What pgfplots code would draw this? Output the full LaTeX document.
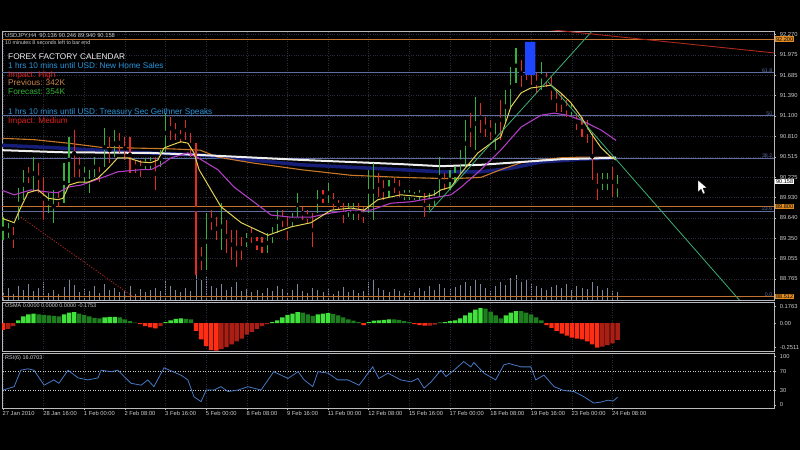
\documentclass[border=0pt]{standalone}
\usepackage{fontspec}
\setmainfont{Liberation Sans}
\usepackage{pgfplots}
\pgfplotsset{compat=1.18}
\usepackage{pgfplotstable}

\definecolor{axc}{RGB}{185,185,190}
\definecolor{gridc}{RGB}{40,44,60}
\definecolor{lblc}{RGB}{205,205,205}
\definecolor{upc}{RGB}{55,175,60}
\definecolor{dnc}{RGB}{225,45,35}
\definecolor{volc}{RGB}{125,135,155}
\definecolor{fibc}{RGB}{95,110,160}
\definecolor{lvlo}{RGB}{195,115,45}
\definecolor{navyc}{RGB}{22,30,120}
\definecolor{whitec}{RGB}{238,238,238}
\definecolor{orac}{RGB}{200,120,40}
\definecolor{magc}{RGB}{175,60,195}
\definecolor{yelc}{RGB}{225,210,85}
\definecolor{trgc}{RGB}{60,175,115}
\definecolor{trrc}{RGB}{175,40,30}
\definecolor{gbr}{RGB}{65,225,60}
\definecolor{gdk}{RGB}{30,125,30}
\definecolor{rbr}{RGB}{255,45,20}
\definecolor{rdk}{RGB}{170,30,20}
\definecolor{rsic}{RGB}{70,120,195}
\definecolor{txblue}{RGB}{40,150,220}
\definecolor{txred}{RGB}{225,35,30}
\definecolor{txtan}{RGB}{205,135,75}
\definecolor{txgreen}{RGB}{50,180,50}
\definecolor{hlblue}{RGB}{30,70,255}
\definecolor{boxo}{RGB}{225,140,35}

\pgfplotstableread{
i h l c
0 89.65 89.32 1
1 89.57 89.35 1
2 89.51 89.21 0
3 90.07 89.61 1
4 90.33 89.90 1
5 90.37 90.14 0
6 90.51 90.04 1
7 90.43 90.00 0
8 90.23 89.61 0
9 90.00 89.71 1
10 90.04 89.57 1
11 90.00 89.80 0
12 90.43 89.85 1
13 90.80 90.14 1
14 90.90 90.23 0
15 90.51 90.23 0
16 90.37 90.14 1
17 90.33 90.00 1
18 90.51 90.23 1
19 90.37 90.15 0
20 90.93 90.37 1
21 90.80 90.43 0
22 90.90 90.51 1
23 90.86 90.57 0
24 90.80 90.47 0
25 90.80 90.28 0
26 90.47 90.28 0
27 90.47 90.23 0
28 90.50 90.33 1
29 90.51 90.33 1
30 90.51 90.04 0
31 90.61 90.37 1
32 91.14 90.57 1
33 91.09 90.76 0
34 91.00 90.76 0
35 90.90 90.71 0
36 91.04 90.76 0
37 90.86 90.51 0
38 90.71 88.82 0
39 89.22 88.89 0
40 89.71 88.89 1
41 89.75 89.47 0
42 89.65 89.32 0
43 89.85 89.18 1
44 89.61 89.14 0
45 89.47 89.04 0
46 89.47 88.94 0
47 89.37 89.04 0
48 89.42 89.22 1
49 89.51 89.28 0
50 89.37 89.18 0
51 89.37 89.14 0
52 89.42 89.14 1
53 89.51 89.28 1
54 89.75 89.42 1
55 89.75 89.51 0
56 89.65 89.32 0
57 89.71 89.51 1
58 90.00 89.65 1
59 89.80 89.61 0
60 89.75 89.57 0
61 89.71 89.22 0
62 90.04 89.71 1
63 90.04 89.85 0
64 90.14 89.85 1
65 90.00 89.75 0
66 89.90 89.75 0
67 89.85 89.57 0
68 89.85 89.65 1
69 89.85 89.61 1
70 89.85 89.61 0
71 89.80 89.57 0
72 90.33 89.71 1
73 90.43 89.61 1
74 90.28 89.94 0
75 90.18 89.90 0
76 90.18 89.94 1
77 90.21 90.00 0
78 90.18 89.94 0
79 90.04 89.90 1
80 90.04 89.90 1
81 90.01 89.90 1
82 90.04 89.90 1
83 90.00 89.65 0
84 90.00 89.75 1
85 90.04 89.80 1
86 90.51 89.94 1
87 90.28 90.04 0
88 90.33 90.04 1
89 90.37 90.14 1
90 90.61 90.28 1
91 91.04 90.37 1
92 91.14 90.66 0
93 91.37 90.61 1
94 91.29 90.86 0
95 91.09 90.80 0
96 91.04 90.76 0
97 91.00 90.61 1
98 91.33 90.76 0
99 91.47 91.00 1
100 91.80 91.23 1
101 92.07 91.57 1
102 91.90 91.52 0
103 92.05 91.62 0
104 91.97 91.54 0
105 91.72 91.43 0
106 91.87 91.47 1
107 91.72 91.52 0
108 91.66 91.33 0
109 91.47 91.16 0
110 91.43 91.16 0
111 91.33 91.09 0
112 91.29 91.09 1
113 91.14 90.90 0
114 91.09 90.80 0
115 91.04 90.71 0
116 90.86 90.18 0
117 90.28 89.90 0
118 90.28 90.04 1
119 90.28 90.04 1
120 90.37 89.94 0
121 90.25 89.94 1
}\bars

\pgfplotstableread{
i v
0 8
1 12
2 6
3 14
4 10
5 16
6 9
7 12
8 18
9 7
10 10
11 6
12 13
13 20
14 15
15 8
16 11
17 9
18 14
19 7
20 16
21 10
22 12
23 8
24 9
25 14
26 6
27 11
28 8
29 10
30 12
31 9
32 22
33 14
34 10
35 8
36 12
37 9
38 26
39 20
40 24
41 14
42 12
43 16
44 10
45 13
46 18
47 9
48 11
49 8
50 10
51 7
52 12
53 9
54 14
55 11
56 8
57 10
58 16
59 9
60 7
61 12
62 10
63 8
64 11
65 6
66 9
67 13
68 8
69 10
70 7
71 9
72 18
73 20
74 12
75 10
76 8
77 11
78 9
79 7
80 10
81 8
82 12
83 9
84 14
85 10
86 16
87 12
88 11
89 13
90 15
91 18
92 14
93 20
94 16
95 12
96 10
97 14
98 18
99 15
100 22
101 25
102 18
103 20
104 16
105 14
106 12
107 10
108 13
109 15
110 12
111 16
112 10
113 14
114 12
115 11
116 18
117 14
118 10
119 12
120 9
121 8
}\vol

\pgfplotstableread{
i v c
0 -0.07 3
1 -0.06 4
2 -0.03 4
3 0.03 1
4 0.07 1
5 0.09 1
6 0.10 1
7 0.09 2
8 0.085 2
9 0.08 2
10 0.075 2
11 0.07 2
12 0.09 1
13 0.11 1
14 0.115 1
15 0.10 2
16 0.085 2
17 0.07 2
18 0.055 2
19 0.05 2
20 0.06 1
21 0.065 1
22 0.065 1
23 0.06 2
24 0.04 2
25 0.02 2
26 0.005 2
27 -0.01 3
28 -0.03 3
29 -0.045 3
30 -0.055 3
31 -0.03 4
32 0.01 1
33 0.03 1
34 0.045 1
35 0.05 1
36 0.045 2
37 0.04 2
38 -0.08 3
39 -0.17 3
40 -0.24 3
41 -0.28 3
42 -0.285 3
43 -0.27 4
44 -0.25 4
45 -0.22 4
46 -0.19 4
47 -0.16 4
48 -0.12 4
49 -0.09 4
50 -0.06 4
51 -0.03 4
52 -0.01 4
53 0.01 1
54 0.03 1
55 0.06 1
56 0.085 1
57 0.10 1
58 0.115 1
59 0.11 2
60 0.09 2
61 0.075 2
62 0.09 1
63 0.10 1
64 0.105 1
65 0.095 2
66 0.08 2
67 0.06 2
68 0.04 2
69 0.025 2
70 0.01 2
71 -0.02 3
72 0.01 1
73 0.025 1
74 0.03 1
75 0.035 1
76 0.04 1
77 0.04 2
78 0.035 2
79 0.02 2
80 0.01 2
81 -0.01 3
82 -0.02 3
83 -0.025 3
84 -0.025 4
85 -0.015 4
86 0.005 1
87 0.01 1
88 0.02 1
89 0.03 1
90 0.05 1
91 0.08 1
92 0.11 1
93 0.14 1
94 0.155 1
95 0.15 2
96 0.12 2
97 0.08 2
98 0.05 2
99 0.08 1
100 0.11 1
101 0.125 1
102 0.125 2
103 0.11 2
104 0.09 2
105 0.06 2
106 0.03 2
107 -0.02 3
108 -0.05 3
109 -0.08 3
110 -0.11 3
111 -0.13 3
112 -0.15 3
113 -0.16 3
114 -0.17 3
115 -0.19 3
116 -0.22 3
117 -0.255 3
118 -0.245 4
119 -0.23 4
120 -0.21 4
121 -0.175 4
}\osma

\pgfplotstableread{
i v
0 31
2.2 38
3.5 72
4.9 75
6.1 72
8.1 41
10.0 52
11.0 45
12.8 72
14.8 56
16.7 52
18.7 56
19.3 72
21.3 69
22.6 72
25.2 45
27.2 41
28.5 52
29.7 38
31.7 77
35.0 62
36.4 52
37.6 17
39.0 7
40.0 31
41.5 31
42.9 38
44.3 28
46.3 31
48.2 38
50.8 31
53.3 69
56.1 55
58.1 69
59.3 52
61.0 38
62.0 69
64.0 66
65.9 52
67.9 52
70.1 41
72.8 79
74.0 55
75.8 66
78.3 52
80.3 48
81.7 55
82.9 35
84.3 48
86.2 72
87.2 59
88.8 72
90.7 90
92.1 79
92.7 88
94.7 66
97.0 52
98.6 83
99.6 86
102.0 79
103.9 79
104.9 52
106.5 62
108.5 38
110.4 30
112.4 28
114.4 17
116.3 4
117.7 6
119.1 10
120.1 8
121.0 16.07
}\rsi

\tikzset{
  rlab/.style={anchor=west, xshift=1.2bp, inner sep=0.7bp, font=\fontsize{5.6}{6}\selectfont},
  fiblab/.style={anchor=south east, xshift=-1bp, yshift=-0.5bp, inner sep=0.5bp, text=fibc, font=\fontsize{5.3}{6}\selectfont},
}
\pgfplotsset{
  mt/.style={
    scale only axis, anchor=south west,
    xmin=-0.2, xmax=151.8,
    axis line style={draw=axc, line width=0.8bp},
    xmajorgrids=true,
    grid style={draw=gridc, dotted, line width=0.5bp},
    xtick={0,8,...,120},
    tick align=outside, major tick length=2bp,
    tick style={draw=axc, line width=0.5bp},
    ytick pos=right, yticklabel pos=right,
    xtick pos=bottom,
    ticklabel style={font=\fontsize{5.8}{6}\selectfont, text=lblc},
    yticklabel style={xshift=0.3bp},
    /pgf/number format/assume math mode=true,
    clip mode=individual,
  },
  hline/.style={forget plot, line width=0.8bp},
  barup/.style={only marks, mark=none, forget plot,
    restrict expr to domain={\thisrow{c}}{0.5:1.5},
    error bars/.cd, y dir=both, y explicit, error mark=none,
    error bar style={draw=upc, line width=1.1bp}},
  bardn/.style={only marks, mark=none, forget plot,
    restrict expr to domain={\thisrow{c}}{-0.5:0.5},
    error bars/.cd, y dir=both, y explicit, error mark=none,
    error bar style={draw=dnc, line width=1.1bp}},
}

\begin{document}
\begin{tikzpicture}
\path[use as bounding box, fill=black] (0,0) rectangle (800bp,450bp);

% volume
\begin{axis}[mt, at={(2bp,150bp)}, width=772bp, height=269bp,
  ymin=0, ymax=269, hide axis]
\addplot[ycomb, draw=volc, line width=0.9bp] table[x=i, y=v] {\vol};
\end{axis}

% main price panel
\begin{axis}[mt, at={(2bp,150bp)}, width=772bp, height=269bp,
  ymin=88.463, ymax=92.317,
  ymajorgrids=true,
  ytick={88.765,89.055,89.350,89.640,89.930,90.225,90.515,90.810,91.100,91.390,91.685,91.975,92.270},
  yticklabel style={/pgf/number format/fixed, /pgf/number format/fixed zerofill, /pgf/number format/precision=3},
  xticklabels={}, xtick style={draw=none}]
% level lines
\addplot[hline, lvlo] coordinates {(-1,92.200) (160,92.200)};
\addplot[hline, fibc] coordinates {(-1,91.720) (160,91.720)};
\addplot[hline, fibc] coordinates {(-1,91.107) (160,91.107)};
\addplot[hline, fibc] coordinates {(-1,90.495) (160,90.495)};
\addplot[hline, lvlo] coordinates {(-1,89.800) (160,89.800)};
\addplot[hline, fibc] coordinates {(-1,89.737) (160,89.737)};
\addplot[hline, lvlo] coordinates {(-1,88.512) (160,88.512)};
% slow averages
\addplot[forget plot, navyc, line width=3.5bp] coordinates {(-0.4,90.68) (11.4,90.64) (25.2,90.58) (39.0,90.54) (48.8,90.47) (58.7,90.40) (78.3,90.33) (86.2,90.30) (94.1,90.30) (100.0,90.35) (105.9,90.44) (113.8,90.48) (120.7,90.50)};
\addplot[forget plot, orac, line width=1.1bp] coordinates {(-0.4,90.78) (6.1,90.76) (12.8,90.71) (19.3,90.65) (25.8,90.64) (32.5,90.63) (38.8,90.61) (42.3,90.51) (48.8,90.43) (58.7,90.33) (68.5,90.25) (78.3,90.22) (88.2,90.20) (94.1,90.22) (98.0,90.33) (102.0,90.43) (105.9,90.47) (109.8,90.50) (113.8,90.51) (120.7,90.51)};
\addplot[forget plot, whitec, line width=2bp] coordinates {(-0.4,90.61) (11.4,90.58) (29.1,90.57) (39.0,90.54) (58.7,90.47) (78.3,90.41) (86.2,90.38) (94.1,90.40) (102.0,90.44) (109.8,90.48) (120.7,90.50)};
% price bars
\addplot[barup] table[x=i, y expr={(\thisrow{h}+\thisrow{l})/2}, y error expr={(\thisrow{h}-\thisrow{l})/2}] {\bars};
\addplot[bardn] table[x=i, y expr={(\thisrow{h}+\thisrow{l})/2}, y error expr={(\thisrow{h}-\thisrow{l})/2}] {\bars};
% highlight
\addplot[forget plot, fill=hlblue, draw=none] coordinates {(102.8,91.69) (102.8,92.16) (104.8,92.16) (104.8,91.69) (102.8,91.69)};
% fast averages
\addplot[forget plot, magc, line width=1.1bp] coordinates {(-0.4,90.04) (2.2,89.97) (5.5,90.04) (8.9,90.01) (10.8,90.00) (12.8,90.08) (15.4,90.11) (19.3,90.21) (22.6,90.30) (27.2,90.33) (29.1,90.33) (31.1,90.40) (33.1,90.50) (36.4,90.57) (38.4,90.50) (42.3,90.33) (45.5,90.08) (48.8,89.90) (52.8,89.68) (56.7,89.65) (60.6,89.65) (64.6,89.71) (68.5,89.75) (72.4,89.75) (76.4,89.85) (80.3,89.87) (84.3,89.92) (88.2,89.97) (90.2,90.08) (94.1,90.33) (98.0,90.61) (102.0,90.94) (105.9,91.11) (108.5,91.14) (111.2,91.11) (113.8,91.04) (117.7,90.90) (120.7,90.75)};
\addplot[forget plot, yelc, line width=1bp] coordinates {(-0.4,89.64) (2.2,89.57) (3.0,89.71) (4.9,90.00) (6.9,90.04) (8.9,89.92) (10.8,89.90) (11.8,89.92) (13.0,90.11) (14.8,90.15) (16.7,90.15) (18.7,90.21) (20.7,90.35) (22.6,90.50) (24.6,90.50) (27.2,90.44) (29.1,90.43) (30.5,90.47) (31.7,90.64) (33.1,90.68) (35.0,90.73) (36.4,90.71) (37.6,90.57) (38.6,90.33) (42.9,89.80) (46.9,89.57) (52.2,89.39) (56.7,89.51) (60.6,89.57) (64.6,89.75) (68.5,89.78) (71.1,89.75) (73.8,89.90) (78.3,89.97) (82.9,89.94) (84.8,89.97) (86.2,90.04) (88.2,90.08) (90.2,90.28) (93.5,90.57) (96.1,90.71) (98.0,90.80) (100.0,91.23) (102.0,91.43) (103.9,91.50) (105.9,91.52) (107.9,91.54) (109.8,91.43) (111.8,91.29) (113.8,91.09) (115.7,90.86) (117.7,90.65) (119.7,90.51) (120.7,90.47)};
% trend lines
\addplot[forget plot, trgc, line width=0.8bp] coordinates {(83.9,89.72) (116.0,92.317)};
\addplot[forget plot, trgc, line width=0.8bp] coordinates {(107.3,91.59) (145.0,88.46)};
\addplot[forget plot, trrc, line width=0.9bp] coordinates {(105.9,92.35) (152.2,92.00)};
\addplot[forget plot, trrc, line width=0.8bp, dash pattern=on 1.2bp off 1.5bp] coordinates {(3.5,89.65) (25.8,88.50)};
% right labels
\node[rlab, fill=boxo, text=black] at (axis cs:151.8,92.200) {92.200};
\node[rlab, fill=white, text=black] at (axis cs:151.8,90.158) {90.158};
\node[rlab, fill=boxo, text=black] at (axis cs:151.8,89.800) {89.800};
\node[rlab, fill=boxo, text=black] at (axis cs:151.8,88.512) {88.512};
\node[fiblab] at (axis cs:151.8,91.720) {61.8};
\node[fiblab] at (axis cs:151.8,91.107) {50};
\node[fiblab] at (axis cs:151.8,90.495) {38.2};
\node[fiblab] at (axis cs:151.8,89.737) {23.6};
\node[fiblab] at (axis cs:151.8,88.512) {0.0};
\end{axis}

% OSMA panel
\begin{axis}[mt, at={(2bp,99bp)}, width=772bp, height=49bp,
  ymin=-0.29, ymax=0.22,
  ytick={-0.2511,0,0.1763}, yticklabels={-0.2511,0.00,0.1763},
  xticklabels={}, xtick style={draw=none}]
\addplot[ybar, bar width=0.86, fill=gbr, draw=none, restrict expr to domain={\thisrow{c}}{0.5:1.5}] table[x=i, y=v] {\osma};
\addplot[ybar, bar width=0.86, fill=gdk, draw=none, restrict expr to domain={\thisrow{c}}{1.5:2.5}] table[x=i, y=v] {\osma};
\addplot[ybar, bar width=0.86, fill=rbr, draw=none, restrict expr to domain={\thisrow{c}}{2.5:3.5}] table[x=i, y=v] {\osma};
\addplot[ybar, bar width=0.86, fill=rdk, draw=none, restrict expr to domain={\thisrow{c}}{3.5:4.5}] table[x=i, y=v] {\osma};
\end{axis}

% RSI panel
\begin{axis}[mt, at={(2bp,42bp)}, width=772bp, height=55bp,
  ymin=-6.2, ymax=107.7,
  ytick={0,30,70,100},
  xticklabels={27 Jan 2010,28 Jan 16:00,1 Feb 00:00,2 Feb 08:00,3 Feb 16:00,5 Feb 00:00,8 Feb 08:00,9 Feb 16:00,11 Feb 00:00,12 Feb 08:00,15 Feb 16:00,17 Feb 00:00,18 Feb 08:00,19 Feb 16:00,23 Feb 00:00,24 Feb 08:00},
  xticklabel style={anchor=north west, xshift=-1.5bp, inner sep=1bp}]
\addplot[hline, lblc, line width=0.6bp, dash pattern=on 0.9bp off 1.6bp] coordinates {(-1,70) (160,70)};
\addplot[hline, lblc, line width=0.6bp, dash pattern=on 0.9bp off 1.6bp] coordinates {(-1,30) (160,30)};
\addplot[forget plot, rsic, line width=0.8bp] table[x=i, y=v] {\rsi};
\end{axis}

% header and calendar text
\node[anchor=base west, inner sep=0, text=lblc, font=\fontsize{5.8}{6}\selectfont] at (5bp,412.5bp) {USDJPY,H4\ \ 90.136 90.246 89.940 90.158};
\node[anchor=base west, inner sep=0, text=lblc, font=\fontsize{5.3}{6}\selectfont] at (5bp,405bp) {10 minutes 8 seconds left to bar end};
\begin{scope}[every node/.style={anchor=base west, inner sep=0, font=\fontsize{8.3}{9}\selectfont}]
\node[text=whitec] at (8bp,390bp) {FOREX FACTORY CALENDAR};
\node[text=txblue] at (8bp,381bp) {1 hrs 10 mins until USD: New Home Sales};
\node[text=txred] at (8bp,372.5bp) {Impact: High};
\node[text=txtan] at (8bp,364bp) {Previous: 342K};
\node[text=txgreen] at (8bp,355.5bp) {Forecast: 354K};
\node[text=txblue] at (8bp,335.5bp) {1 hrs 10 mins until USD: Treasury Sec Geithner Speaks};
\node[text=txred] at (8bp,326.5bp) {Impact: Medium};
\end{scope}
\node[anchor=base west, inner sep=0, text=lblc, font=\fontsize{5.5}{6}\selectfont] at (5bp,142bp) {OSMA 0.0000 0.0000 0.0000 -0.1753};
\node[anchor=base west, inner sep=0, text=lblc, font=\fontsize{5.5}{6}\selectfont] at (5bp,90bp) {RSI(6) 16.0703};
% mouse pointer
\path[fill=white, draw=black, line width=0.3bp] (698bp,270bp) -- (698bp,258bp) -- (701bp,261bp) -- (703bp,256bp) -- (705bp,257bp) -- (703bp,262bp) -- (707bp,262bp) -- cycle;
\end{tikzpicture}
\end{document}
